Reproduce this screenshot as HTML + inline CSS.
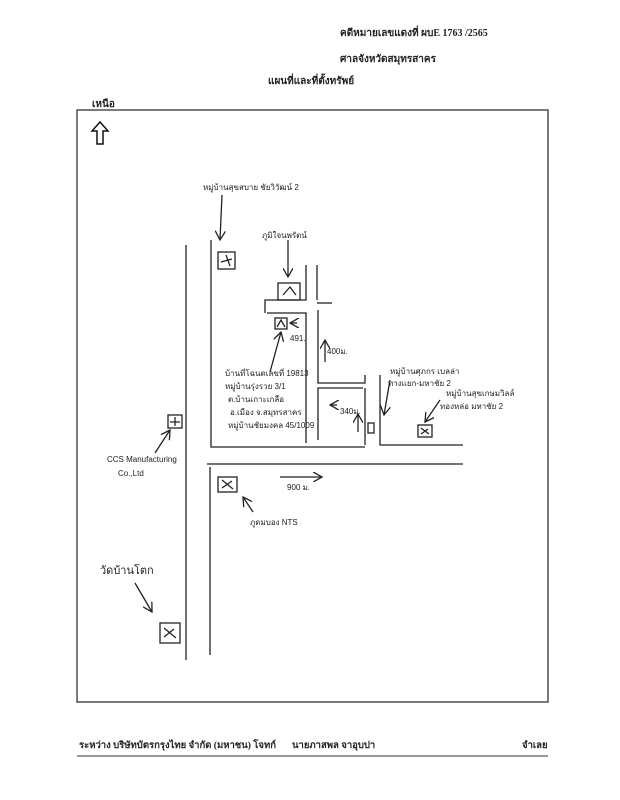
<!DOCTYPE html>
<html><head><meta charset="utf-8"><style>
html,body{margin:0;padding:0;background:#fff;width:620px;height:800px;overflow:hidden}
svg{display:block}
.p{font-family:"Liberation Serif","Noto Serif CJK SC",serif;font-size:10px;font-weight:bold;fill:#222}
.h{font-family:"Liberation Sans","Noto Sans CJK SC",sans-serif;font-size:8px;fill:#222}
</style></head><body>
<svg width="620" height="800" viewBox="0 0 620 800" xmlns="http://www.w3.org/2000/svg">
<defs><marker id="a" markerWidth="8" markerHeight="8" refX="7" refY="4" orient="auto"><path d="M0,0 L7,4 L0,8" fill="none" stroke="#222" stroke-width="1"/></marker></defs>
<text class="p" x="340" y="36">คดีหมายเลขแดงที่ ผบE 1763 /2565</text>
<text class="p" x="340" y="62">ศาลจังหวัดสมุทรสาคร</text>
<text class="p" x="268" y="84">แผนที่และที่ตั้งทรัพย์</text>
<text class="p" x="92" y="107">เหนือ</text>
<rect x="77" y="110" width="471" height="592" fill="none" stroke="#333" stroke-width="1.3"/>
<path d="M100,122 L92,131 L97,131 L97,144 L103,144 L103,131 L108,131 Z" fill="none" stroke="#111" stroke-width="1.5"/>
<g stroke="#222" stroke-width="1.3" fill="none">
<path d="M186,245 V660"/>
<path d="M211,240 V447 H365"/>
<path d="M207,464 H463"/>
<path d="M210,467 V655"/>
<path d="M306,265 V300 H265 V313"/>
<path d="M267,313 H306 V443"/>
<path d="M317,265 V300"/>
<path d="M317,303 H332"/>
<path d="M318,310 V383 H365 V375"/>
<path d="M318,440 V388 H363"/>
<path d="M365,388 V445"/>
<path d="M380,375 V445 H463"/>
<rect x="218" y="252" width="17" height="17"/><path d="M221,262 L232,259 M226,255 L230,266"/>
<rect x="278" y="283" width="22" height="17"/><path d="M283,295 L290,287 L296,295"/>
<rect x="275" y="318" width="12" height="11"/><path d="M277,327 L281,320 L285,327"/>
<rect x="368" y="423" width="6" height="10"/>
<rect x="418" y="425" width="14" height="12"/><path d="M421,428 L429,434 M421,434 L428,429"/>
<rect x="168" y="415" width="14" height="13"/><path d="M175,417 V426 M170,422 H180"/>
<rect x="218" y="477" width="19" height="15"/><path d="M222,480 L233,489 M222,488 L232,481"/>
<rect x="160" y="623" width="20" height="20"/><path d="M164,628 L176,638 M164,637 L174,629"/>
<path d="M222,195 L220,240" marker-end="url(#a)"/>
<path d="M288,240 L288,277" marker-end="url(#a)"/>
<path d="M297,323 L290,323" marker-end="url(#a)"/>
<path d="M270,372 L281,332" marker-end="url(#a)"/>
<path d="M325,362 L325,340" marker-end="url(#a)"/>
<path d="M337,405 L330,405" marker-end="url(#a)"/>
<path d="M358,432 L358,414" marker-end="url(#a)"/>
<path d="M390,380 L384,415" marker-end="url(#a)"/>
<path d="M440,400 L425,422" marker-end="url(#a)"/>
<path d="M155,453 L170,430" marker-end="url(#a)"/>
<path d="M280,477 L322,477" marker-end="url(#a)"/>
<path d="M253,512 L243,497" marker-end="url(#a)"/>
<path d="M135,583 L152,612" marker-end="url(#a)"/>
</g>
<text class="h" x="203" y="190">หมู่บ้านสุขสบาย ชัยวิวัฒน์ 2</text>
<text class="h" x="262" y="238">ภูมิใจนพรัตน์</text>
<text class="h" x="290" y="341">491.</text>
<text class="h" x="327" y="354">400ม.</text>
<text class="h" x="225" y="376">บ้านที่โฉนดเลขที่ 19813</text>
<text class="h" x="225" y="389">หมู่บ้านรุ่งรวย 3/1</text>
<text class="h" x="228" y="402">ต.บ้านเกาะเกลือ</text>
<text class="h" x="230" y="415">อ.เมือง จ.สมุทรสาคร</text>
<text class="h" x="228" y="428">หมู่บ้านชัยมงคล 45/1009</text>
<text class="h" x="340" y="414">340ม.</text>
<text class="h" x="390" y="374">หมู่บ้านศุภกร เบลล่า</text>
<text class="h" x="388" y="386">ทางแยก-มหาชัย 2</text>
<text class="h" x="446" y="396">หมู่บ้านสุขเกษมวิลล์</text>
<text class="h" x="440" y="409">ทองหล่อ มหาชัย 2</text>
<text class="h" x="107" y="462">CCS Manufacturing</text>
<text class="h" x="118" y="476">Co.,Ltd</text>
<text class="h" x="287" y="490">900 ม.</text>
<text class="h" x="250" y="525">ภูดมบอง NTS</text>
<text class="h" x="100" y="574" style="font-size:11px">วัดบ้านโตก</text>
<text class="p" x="79" y="748" style="font-size:9.5px">ระหว่าง บริษัทบัตรกรุงไทย จำกัด (มหาชน) โจทก์</text>
<text class="p" x="292" y="748" style="font-size:9.5px">นายภาสพล จาอุบปา</text>
<text class="p" x="522" y="748" style="font-size:9.5px">จำเลย</text>
<line x1="77" y1="756" x2="548" y2="756" stroke="#333" stroke-width="1"/>
</svg>
</body></html>
